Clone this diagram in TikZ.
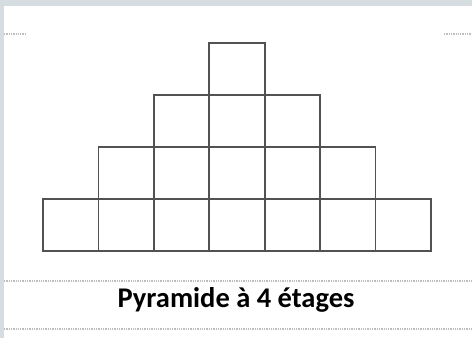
\documentclass[tikz,border=0pt]{standalone}
\usepackage{fontspec}
\setmainfont{Carlito}
\definecolor{framegray}{HTML}{D6DDE0}
\definecolor{rulegray}{HTML}{BEBEBE}
\begin{document}
\begin{tikzpicture}[x=1pt, y=-1pt,
    cell/.style={rectangle, draw=black!68, line width=1.9pt, minimum width=55.4pt, minimum height=52pt, inner sep=0pt},
    rulebar/.style={draw=rulegray, line width=1.4pt, dash pattern=on 1.3pt off 1pt},
    title/.style={font=\bfseries\fontsize{28.5}{32}\selectfont, inner sep=0pt, anchor=base}
]
% Frame
\fill[framegray] (0,0) rectangle (472,338);
\fill[white] (4,6) rectangle (472,338);
\useasboundingbox (0,0) rectangle (472,338);

% Short rules at the top
\draw[rulebar] (4,34) -- (26,34);
\draw[rulebar] (444,34) -- (472,34);

% Pyramid cells, one row per level
\foreach \r in {1,...,4} {
  \pgfmathtruncatemacro{\n}{2*\r-1}
  \foreach \k in {1,...,\n} {
    \node[cell] (c-\r-\k) at ({237+(\k-\r)*55.4}, {69+(\r-1)*52}) {};
  }
}

% Caption between rules
\draw[rulebar] (4,281) -- (472,281);
\node[title] (caption) at (236,307) {Pyramide à 4 étages};
\draw[rulebar] (4,329) -- (472,329);
\end{tikzpicture}
\end{document}
